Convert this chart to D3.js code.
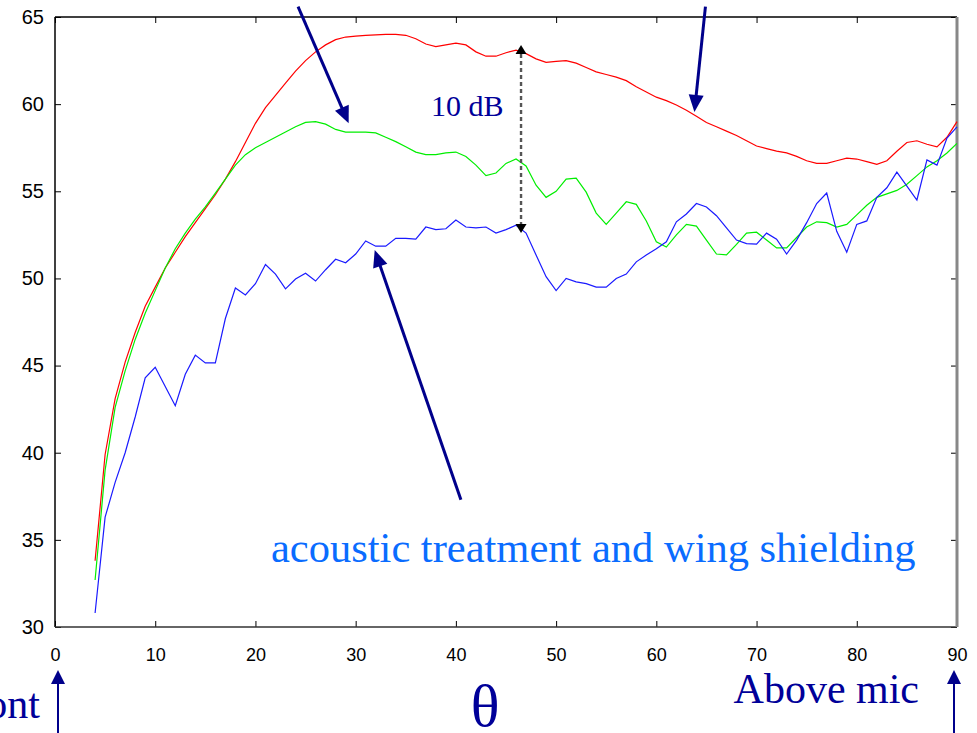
<!DOCTYPE html>
<html>
<head>
<meta charset="utf-8">
<script src="https://cdn.jsdelivr.net/npm/d3@7"></script>
<style>
  body { margin: 0; background: #fff; }
  svg { display: block; }
</style>
</head>
<body>
<script>
// angle theta (deg), one sample per degree
var angles = d3.range(4, 91);

var redVals = [33.8, 39.9, 43.1, 45.2, 46.9, 48.4, 49.5, 50.6, 51.5, 52.4,
  53.2, 54.0, 54.8, 55.7, 56.7, 57.8, 58.9, 59.8, 60.5, 61.2,
  61.9, 62.5, 63.0, 63.4, 63.7, 63.85, 63.9, 63.95, 63.97, 64.0,
  64.0, 63.95, 63.75, 63.45, 63.3, 63.4, 63.5, 63.4, 63.0, 62.75,
  62.75, 62.95, 63.1, 62.9, 62.6, 62.4, 62.45, 62.5, 62.35, 62.1,
  61.85, 61.7, 61.55, 61.35, 61.0, 60.7, 60.4, 60.2, 59.95, 59.65,
  59.3, 58.95, 58.7, 58.45, 58.2, 57.9, 57.6, 57.45, 57.3, 57.2,
  57.0, 56.75, 56.6, 56.6, 56.75, 56.9, 56.85, 56.7, 56.55, 56.75,
  57.3, 57.8, 57.9, 57.7, 57.55, 58.1, 59.0];

var greenVals = [32.7, 39.0, 42.6, 44.7, 46.5, 48.0, 49.3, 50.6, 51.7, 52.6,
  53.4, 54.1, 54.9, 55.7, 56.5, 57.1, 57.5, 57.8, 58.1, 58.4,
  58.7, 58.95, 59.0, 58.85, 58.55, 58.4, 58.4, 58.4, 58.35, 58.1,
  57.85, 57.55, 57.25, 57.1, 57.1, 57.2, 57.25, 57.0, 56.5, 55.9,
  56.05, 56.6, 56.85, 56.45, 55.35, 54.65, 55.0, 55.7, 55.75, 54.95,
  53.75, 53.1, 53.75, 54.4, 54.25, 53.3, 52.1, 51.8, 52.5, 53.1,
  53.0, 52.2, 51.4, 51.35, 51.95, 52.6, 52.65, 52.2, 51.75, 51.75,
  52.35, 52.95, 53.25, 53.2, 52.95, 53.1, 53.65, 54.2, 54.65, 54.85,
  55.05, 55.4, 55.9, 56.4, 56.75, 57.2, 57.75];

var blueVals = [30.8, 36.3, 38.3, 40.0, 42.05, 44.3, 44.9, 43.8, 42.7, 44.5,
  45.6, 45.15, 45.15, 47.7, 49.45, 49.05, 49.7, 50.8, 50.25, 49.4,
  49.97, 50.3, 49.85, 50.5, 51.1, 50.9, 51.4, 52.15, 51.85, 51.85,
  52.3, 52.3, 52.25, 52.95, 52.8, 52.85, 53.35, 52.95, 52.9, 52.95,
  52.6, 52.8, 53.05, 52.6, 51.35, 50.1, 49.3, 50.0, 49.8, 49.7,
  49.5, 49.5, 50.0, 50.25, 50.95, 51.35, 51.7, 52.1, 53.25, 53.7,
  54.3, 54.1, 53.6, 52.9, 52.2, 52.0, 51.97, 52.6, 52.25, 51.4,
  52.2, 53.2, 54.3, 54.9, 52.7, 51.5, 53.1, 53.3, 54.65, 55.2,
  56.1, 55.3, 54.5, 56.8, 56.5, 58.05, 58.7];

var xTicks = [0, 10, 20, 30, 40, 50, 60, 70, 80, 90];
var yTicks = [30, 35, 40, 45, 50, 55, 60, 65];

var width = 977, height = 733;
var navy = '#00008b';

var svg = d3.select('body').append('svg')
  .attr('width', width)
  .attr('height', height);

var x = d3.scaleLinear().domain([0, 90]).range([55, 957]);
var y = d3.scaleLinear().domain([30, 65]).range([627, 17]);

// axes, ticks inward
svg.append('g')
  .attr('transform', 'translate(0,627)')
  .call(d3.axisBottom(x).tickValues(xTicks).tickSize(-6).tickPadding(21))
  .call(function (g) { g.select('.domain').remove(); })
  .selectAll('text').style('font', '18px "Liberation Sans", Arial, sans-serif').attr('fill', '#000');

svg.append('g')
  .attr('transform', 'translate(55,0)')
  .call(d3.axisLeft(y).tickValues(yTicks).tickSize(-6).tickPadding(11))
  .call(function (g) { g.select('.domain').remove(); })
  .selectAll('text').style('font', '20px "Liberation Sans", Arial, sans-serif').attr('fill', '#000');

svg.append('g')
  .attr('transform', 'translate(0,17)')
  .call(d3.axisTop(x).tickValues(xTicks).tickSize(-6).tickFormat(''))
  .call(function (g) { g.select('.domain').remove(); });

svg.append('g')
  .attr('transform', 'translate(957,0)')
  .call(d3.axisRight(y).tickValues(yTicks).tickSize(-6).tickFormat(''))
  .call(function (g) { g.select('.domain').remove(); });

// frame
svg.append('line').attr('x1', 55).attr('x2', 957).attr('y1', 17).attr('y2', 17)
  .attr('stroke', '#000').attr('stroke-width', 1.5);
svg.append('line').attr('x1', 55).attr('x2', 55).attr('y1', 17).attr('y2', 627)
  .attr('stroke', '#000').attr('stroke-width', 1.5);
svg.append('line').attr('x1', 55).attr('x2', 957).attr('y1', 627).attr('y2', 627)
  .attr('stroke', '#333').attr('stroke-width', 1.5);
svg.append('line').attr('x1', 957).attr('x2', 957).attr('y1', 17).attr('y2', 627)
  .attr('stroke', '#888').attr('stroke-width', 3);

// series
var line = d3.line()
  .x(function (d) { return x(d[0]); })
  .y(function (d) { return y(d[1]); });

var series = [
  { vals: redVals, color: '#ff0000' },
  { vals: greenVals, color: '#00ee00' },
  { vals: blueVals, color: '#1a1aff' }
];

series.forEach(function (s) {
  svg.append('path')
    .datum(angles.map(function (a, i) { return [a, s.vals[i]]; }))
    .attr('fill', 'none')
    .attr('stroke', s.color)
    .attr('stroke-width', 1.2)
    .attr('d', line);
});

// arrow helper (pixel coords)
function arrow(x1, y1, x2, y2, color, w, len, half) {
  var dx = x2 - x1, dy = y2 - y1, L = Math.sqrt(dx * dx + dy * dy);
  var ux = dx / L, uy = dy / L;
  var bx = x2 - ux * len, by = y2 - uy * len;
  svg.append('line').attr('x1', x1).attr('y1', y1).attr('x2', bx + ux * 2).attr('y2', by + uy * 2)
    .attr('stroke', color).attr('stroke-width', w);
  svg.append('polygon')
    .attr('points', [[x2, y2], [bx - uy * half, by + ux * half], [bx + uy * half, by - ux * half]]
      .map(function (p) { return p.join(','); }).join(' '))
    .attr('fill', color);
}

// pointer arrows
arrow(x(24.25), y(65.6), x(29.3), y(58.9), navy, 3, 17, 7.5);
arrow(x(64.9), y(65.6), x(63.8), y(59.55), navy, 3, 17, 7.5);
arrow(x(40.5), y(37.3), x(31.9), y(51.63), navy, 3, 17, 7.5);

// 10 dB dashed span
svg.append('line')
  .attr('x1', x(46.5)).attr('x2', x(46.5))
  .attr('y1', y(63.4) + 9).attr('y2', y(52.6) - 9)
  .attr('stroke', '#555').attr('stroke-width', 2.4)
  .attr('stroke-dasharray', '4,3');
[[63.4, 1], [52.6, -1]].forEach(function (t) {
  var ty = y(t[0]), d = t[1];
  svg.append('polygon')
    .attr('points', [[x(46.5), ty], [x(46.5) - 5.5, ty + d * 9], [x(46.5) + 5.5, ty + d * 9]]
      .map(function (p) { return p.join(','); }).join(' '))
    .attr('fill', '#000');
});

svg.append('text')
  .attr('x', 431).attr('y', 116)
  .attr('fill', '#000099')
  .style('font', '30px "Liberation Serif", "Times New Roman", serif')
  .text('10 dB');

svg.append('text')
  .attr('x', 271).attr('y', 562)
  .attr('fill', '#0a6cff')
  .style('font', '42.5px "Liberation Serif", "Times New Roman", serif')
  .text('acoustic treatment and wing shielding');

// bottom labels
svg.append('text')
  .attr('x', 485).attr('y', 726)
  .attr('text-anchor', 'middle')
  .attr('fill', '#000099')
  .style('font', '60px "Liberation Serif", "Times New Roman", serif')
  .text('θ');

svg.append('text')
  .attr('x', 919).attr('y', 703)
  .attr('text-anchor', 'end')
  .attr('fill', '#000099')
  .style('font', '42px "Liberation Serif", "Times New Roman", serif')
  .text('Above mic');

svg.append('text')
  .attr('x', 40).attr('y', 718)
  .attr('text-anchor', 'end')
  .attr('fill', '#000099')
  .style('font', '42px "Liberation Serif", "Times New Roman", serif')
  .text('Front');

arrow(58, 740, 58, 670, navy, 2, 14, 7);
arrow(954, 740, 954, 670, navy, 2, 14, 7);
</script>
</body>
</html>
